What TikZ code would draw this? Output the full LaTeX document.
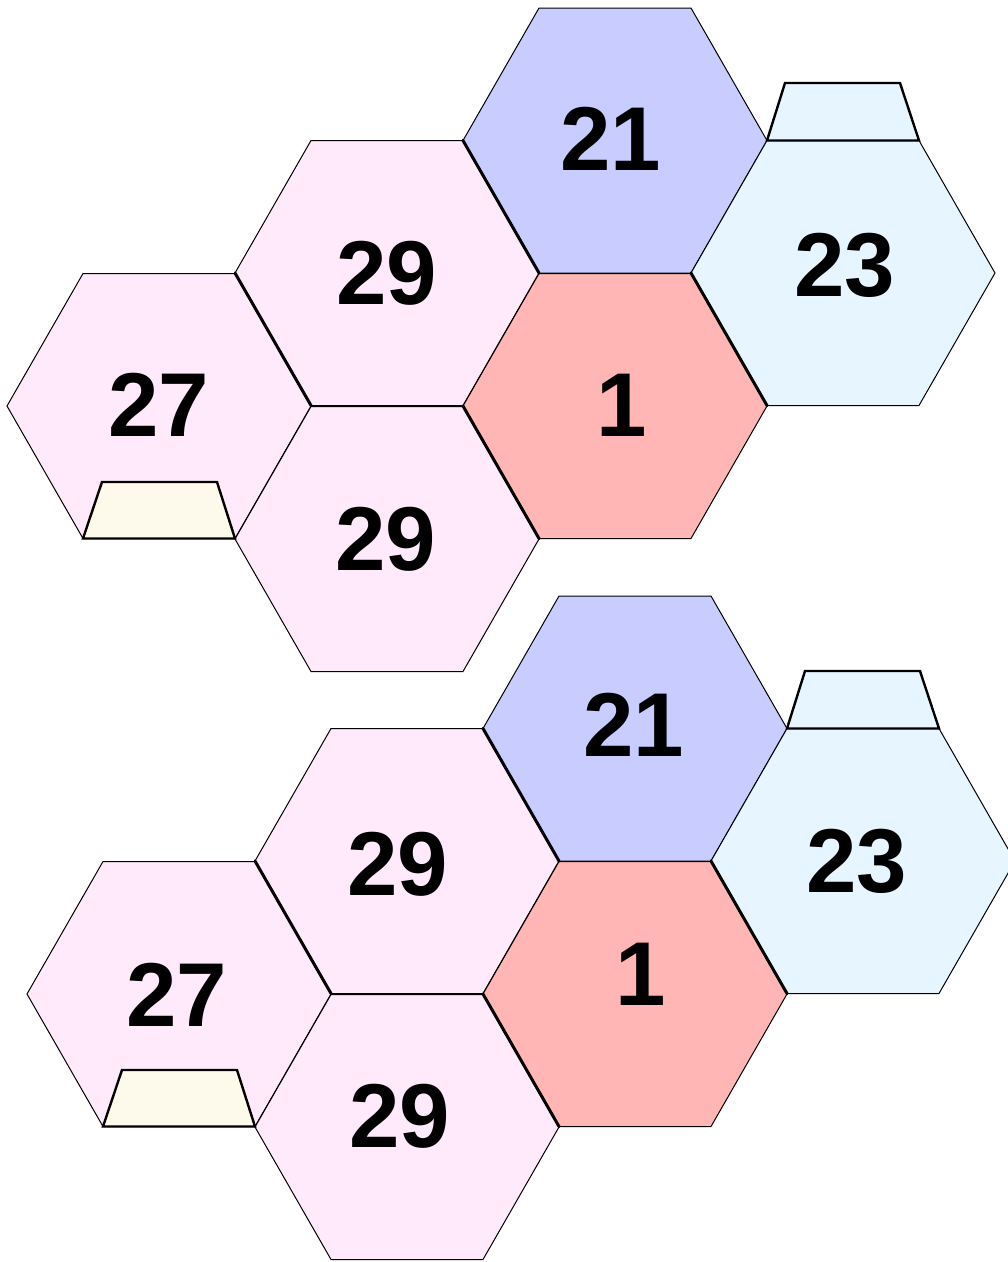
\documentclass[tikz,border=0pt]{standalone}
\usepackage{fontspec}
\setmainfont{Liberation Sans}
\usepackage{tikz}

\definecolor{cellblue}{HTML}{C8CCFF}
\definecolor{cellred}{HTML}{FFB6B4}
\definecolor{cellsky}{HTML}{E6F5FF}
\definecolor{cellpink}{HTML}{FFEAFB}
\definecolor{cellcream}{HTML}{FEFAEB}

\tikzset{
    cell/.style={draw=black, line width=1bp, line join=miter},
    seam/.style={draw=black, line width=3bp, line cap=round},
    tray/.style={draw=black, line width=2.4bp, line join=miter},
    num/.style={font=\fontsize{91}{91}\selectfont\bfseries, inner sep=0pt}
}

% flat-topped hexagon: fill colour, centre x, centre y
\newcommand{\hexcell}[3]{%
    \filldraw[cell, fill=#1] ({#2-152},#3) -- ({#2-76},{#3-132.5}) -- ({#2+76},{#3-132.5})
        -- ({#2+152},#3) -- ({#2+76},{#3+132.5}) -- ({#2-76},{#3+132.5}) -- cycle;}
% heavy lower-left edge of a hexagon
\newcommand{\hexseam}[2]{%
    \draw[seam] ({#1-152},#2) -- ({#1-76},{#2+132.5});}

\begin{document}
\begin{tikzpicture}[x=1bp, y=-1bp]
    \useasboundingbox (0,0) rectangle (1008,1262);
    \clip (0,0) rectangle (1008,1262);

    \foreach \dx/\dy in {0/0, 20/588} {
        \begin{scope}[shift={(\dx,\dy)}]
            \hexcell{cellpink}{159}{406}
            \hexcell{cellpink}{387}{273}
            \hexcell{cellpink}{387}{539}
            \hexcell{cellblue}{615}{140.5}
            \hexcell{cellred}{615}{406}
            \hexcell{cellsky}{843}{273}
            \hexseam{615}{140.5}
            \hexseam{387}{273}
            \hexseam{615}{406}
            \hexseam{843}{273}
            \filldraw[tray, fill=cellsky] (767,140.5) -- (785,83) -- (900,83) -- (919,140.5) -- cycle;
            \filldraw[tray, fill=cellcream] (83,538.5) -- (102,482) -- (217,482) -- (235,538.5) -- cycle;
        \end{scope}
    }

    % upper group
    \node[num] (upA) at (611,139) {21};
    \node[num] (upB) at (387,273) {29};
    \node[num] (upC) at (159,405) {27};
    \node[num] (upD) at (386,539) {29};
    \node[num] (upE) at (622,405) {1};
    \node[num] (upF) at (845,265) {23};

    % lower group
    \node[num] (loA) at (634,725) {21};
    \node[num] (loB) at (398,864) {29};
    \node[num] (loC) at (177,995) {27};
    \node[num] (loD) at (400,1116) {29};
    \node[num] (loE) at (641,974) {1};
    \node[num] (loF) at (857,861) {23};
\end{tikzpicture}
\end{document}
